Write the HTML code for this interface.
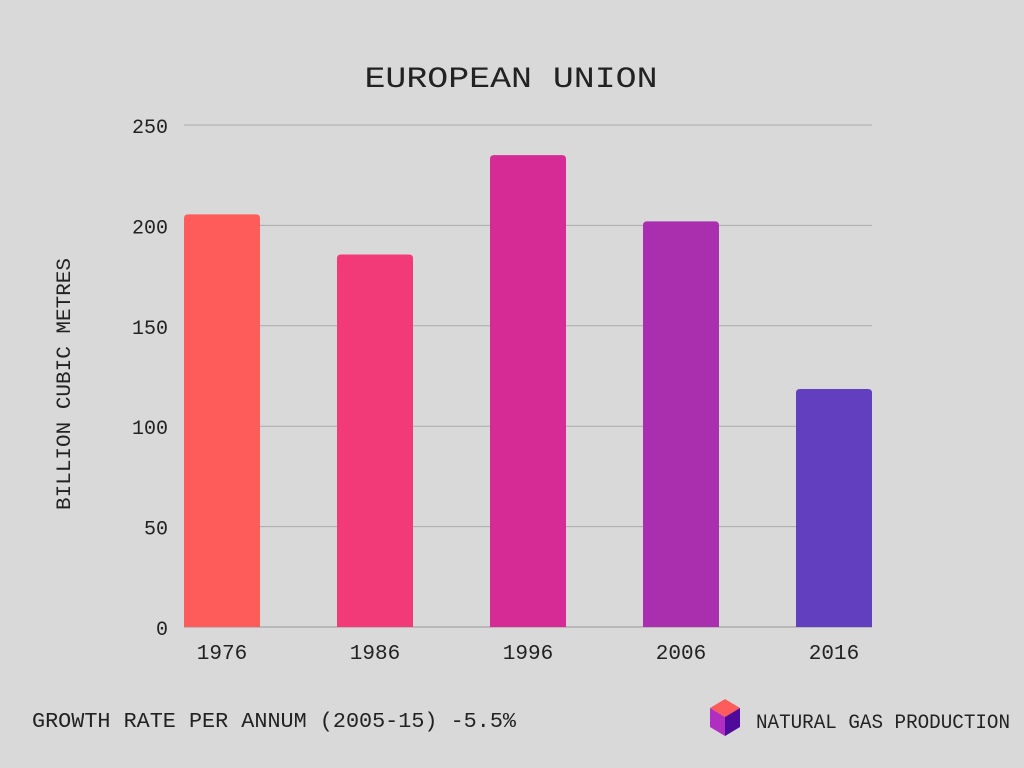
<!DOCTYPE html>
<html><head><meta charset="utf-8"><style>
html,body{margin:0;padding:0;background:#d9d9d9;}
svg{display:block;font-family:"Liberation Mono",monospace;}
</style></head><body>
<svg id="chart" width="1024" height="768" viewBox="0 0 1024 768">
<rect width="1024" height="768" fill="#d9d9d9"/>
<text x="511" y="87" font-size="30" fill="#222" text-anchor="middle" textLength="293" lengthAdjust="spacingAndGlyphs">EUROPEAN UNION</text>
<text transform="translate(70,384) rotate(-90)" font-size="20" fill="#222" text-anchor="middle" textLength="252" lengthAdjust="spacingAndGlyphs">BILLION CUBIC METRES</text>
<g id="grid"></g><g id="bars"></g><g id="xlabels"></g>
<text x="32" y="727" font-size="21" fill="#222" textLength="484" lengthAdjust="spacingAndGlyphs">GROWTH RATE PER ANNUM (2005-15) -5.5%</text>
<g>
<polygon points="725,699 740,708 725,717 710,708" fill="#fd5c5a"/>
<polygon points="710,708 725,717 725,736 710,727" fill="#b02fc0"/>
<polygon points="740,708 725,717 725,736 740,727" fill="#4f0a9c"/>
</g>
<text x="756" y="728" font-size="20" fill="#222" textLength="254" lengthAdjust="spacingAndGlyphs">NATURAL GAS PRODUCTION</text>
</svg>
<script>
const categories=["1976","1986","1996","2006","2016"];
const values=[205.5,185.5,235,202,118.5];
const colors=["#fd5c5a","#f23a78","#d62a94","#a92fae","#623fbf"];
const yTicks=[0,50,100,150,200,250];
const NS="http://www.w3.org/2000/svg";
const x0=184,x1=872,yBase=627,yTop=125,yMax=250;
const y=v=>yBase-(v/yMax)*(yBase-yTop);
const bw=76;
const step=(x1-x0-bw)/(categories.length-1);
const xc=i=>x0+bw/2+step*i;
const grid=document.getElementById('grid');
yTicks.forEach(t=>{
  const l=document.createElementNS(NS,'line');
  l.setAttribute('x1',x0);l.setAttribute('x2',x1);
  l.setAttribute('y1',y(t));l.setAttribute('y2',y(t));
  l.setAttribute('stroke',t===0?'#999':'#aaa');l.setAttribute('stroke-width','1');
  
  
  grid.appendChild(l);
  const tx=document.createElementNS(NS,'text');
  tx.setAttribute('x',168);tx.setAttribute('y',y(t)+8);
  tx.setAttribute('font-size','20');tx.setAttribute('fill','#222');tx.setAttribute('text-anchor','end');
  tx.textContent=t;
  
  
  grid.appendChild(tx);
});
const bars=document.getElementById('bars'),xl=document.getElementById('xlabels');
categories.forEach((c,i)=>{
  const top=y(values[i]);
  const p=document.createElementNS(NS,'path');
  const l=xc(i)-bw/2,r=xc(i)+bw/2,rr=4;
  p.setAttribute('d',`M${l},${yBase} L${l},${top+rr} Q${l},${top} ${l+rr},${top} L${r-rr},${top} Q${r},${top} ${r},${top+rr} L${r},${yBase} Z`);
  p.setAttribute('fill',colors[i]);
  
  
  bars.appendChild(p);
  const t=document.createElementNS(NS,'text');
  t.setAttribute('x',xc(i));t.setAttribute('y',659);
  t.setAttribute('font-size','21');t.setAttribute('fill','#222');t.setAttribute('text-anchor','middle');
  t.textContent=c;
  
  
  xl.appendChild(t);
});
</script>
</body></html>
